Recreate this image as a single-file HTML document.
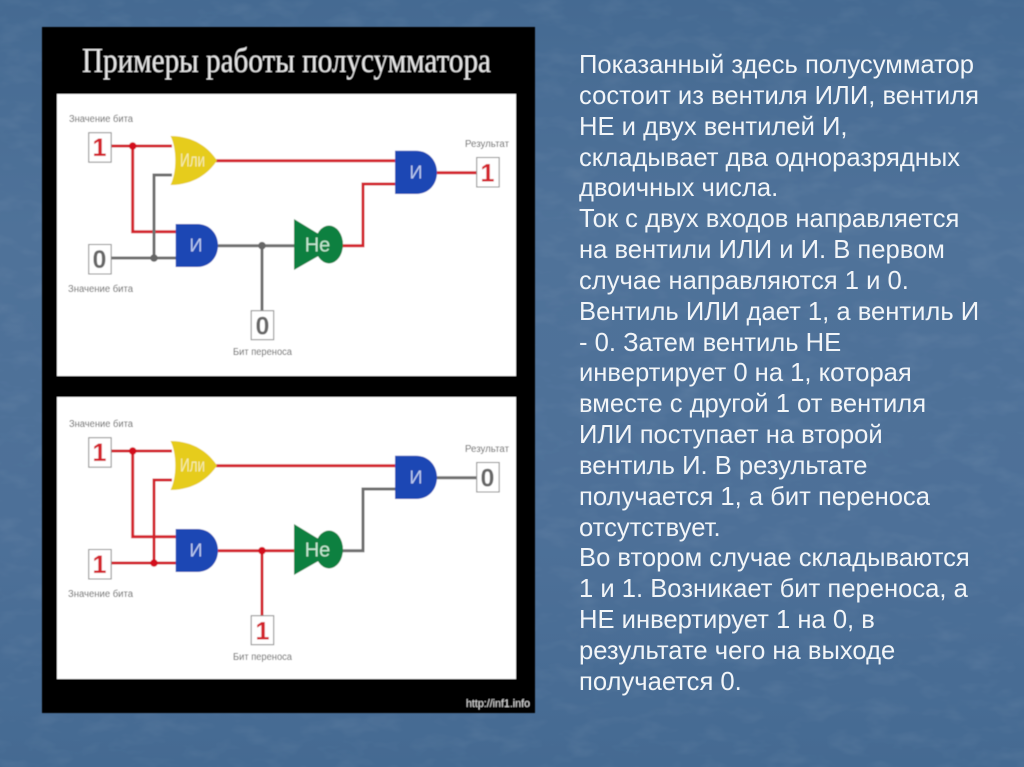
<!DOCTYPE html>
<html lang="ru">
<head>
<meta charset="utf-8">
<title>Полусумматор</title>
<style>
html,body{margin:0;padding:0;width:1024px;height:767px;overflow:hidden;background:#4a6d95;}
#wrap{position:relative;width:1024px;height:767px;overflow:hidden;}
svg{display:block;}
.r{fill:none;stroke:#d3202c;stroke-width:3;}
.g{fill:none;stroke:#6e6e6e;stroke-width:3;}
.box{fill:#fff;stroke:#8a8a8a;stroke-width:1;}
.lab{font-family:"Liberation Sans",sans-serif;font-size:10px;fill:#5f5f5f;}
.dr{font-family:"Liberation Sans",sans-serif;font-size:25px;font-weight:bold;fill:#d3202c;text-anchor:middle;}
.dg{font-family:"Liberation Sans",sans-serif;font-size:25px;font-weight:bold;fill:#666;text-anchor:middle;}
.gt{font-family:"Liberation Sans",sans-serif;font-size:18px;text-anchor:middle;}
.body{font-family:"Liberation Sans",sans-serif;font-size:25.6px;fill:#f2f5f8;}
</style>
</head>
<body>
<div id="wrap">
<svg width="1024" height="767" viewBox="0 0 1024 767" xmlns="http://www.w3.org/2000/svg">
<defs>
<linearGradient id="bg" x1="0" y1="0" x2="0" y2="1">
<stop offset="0" stop-color="#456a92"/>
<stop offset="0.3" stop-color="#4f7299"/>
<stop offset="0.7" stop-color="#4d7098"/>
<stop offset="1" stop-color="#456a92"/>
</linearGradient>
<filter id="tex" x="0" y="0" width="100%" height="100%">
<feTurbulence type="fractalNoise" baseFrequency="0.03 0.06" numOctaves="3" seed="7"/>
<feColorMatrix type="matrix" values="0 0 0 0 1  0 0 0 0 1  0 0 0 0 1  1.6 0 0 0 -0.75"/>
</filter>
<filter id="soft" x="-2%" y="-2%" width="104%" height="104%"><feGaussianBlur stdDeviation="0.45"/></filter>
<filter id="soft2" x="-2%" y="-2%" width="104%" height="104%"><feGaussianBlur stdDeviation="0.25"/></filter>
</defs>

<rect width="1024" height="767" fill="url(#bg)"/>
<rect width="1024" height="767" filter="url(#tex)" opacity="0.08"/>

<g filter="url(#soft)">
<rect x="42" y="27" width="493" height="686" fill="#000"/>
<text x="82" y="72" font-family="'Liberation Serif',serif" font-size="35" fill="#e6e6e6" textLength="409" lengthAdjust="spacingAndGlyphs">Примеры работы полусумматора</text>
<rect x="57" y="94" width="459" height="282" fill="#fff"/>
<rect x="57" y="397" width="459" height="282" fill="#fff"/>
<text x="466" y="707" font-family="'Liberation Sans',sans-serif" font-size="11" fill="#ddd" textLength="64" lengthAdjust="spacingAndGlyphs">http://inf1.info</text>

<!-- Panel 1 -->
<g>
<path class="r" d="M111 146H172"/>
<path class="r" d="M132.700 146V231.700H176"/>
<path class="g" d="M172 175H154V258"/>
<path class="g" d="M111 258H176"/>
<path class="g" d="M218 245.700H295"/>
<path class="g" d="M262 245.700V311"/>
<path class="r" d="M216 160.700H396"/>
<path class="r" d="M342 245.700H363V184H396"/>
<path class="r" d="M437 172.700H477"/>
<circle cx="132.700" cy="146" r="3.800" fill="#d3101c"/>
<circle cx="154" cy="258" r="3.800" fill="#666"/>
<circle cx="262" cy="245.700" r="3.800" fill="#666"/>
<path d="M170.500 136C194 136 209 148 217 160.500C209 173 194 185 170.500 185C177 172 177 149 170.500 136Z" fill="#e6cc1e"/>
<path d="M175.700 224H197C210 224 218 234 218 245.500C218 257 210 267 197 267H175.700Z" fill="#1f46b4"/>
<path d="M395 150.700H416C429 150.700 437 161 437 172.500C437 184 429 194 416 194H395Z" fill="#1f46b4"/>
<path d="M294 219L322 236V254L294 270Z" fill="#0f8040"/>
<ellipse cx="329" cy="244.500" rx="14" ry="19" fill="#0f8040"/>
<text class="gt" x="192.500" y="166.500" fill="#f5ecb0" textLength="25" lengthAdjust="spacingAndGlyphs">Или</text>
<text class="gt" x="196" y="251.500" fill="#b9c9ee">И</text>
<text class="gt" x="416" y="178.500" fill="#b9c9ee">И</text>
<text class="gt" x="317.500" y="251.500" fill="#c4e8d2" style="font-size:20px">Не</text>
<rect class="box" x="88.700" y="132.700" width="22.500" height="29.500"/>
<text class="dr" x="99.500" y="156">1</text>
<rect class="box" x="88.700" y="244.500" width="22.500" height="29.500"/>
<text class="dg" x="99.500" y="268">0</text>
<rect class="box" x="251.200" y="310.700" width="22.500" height="29"/>
<text class="dg" x="262.500" y="334.500">0</text>
<rect class="box" x="476.700" y="157.500" width="22.500" height="29.500"/>
<text class="dr" x="487.500" y="181.500">1</text>
<text class="lab" x="69" y="122" textLength="64" lengthAdjust="spacingAndGlyphs">Значение бита</text>
<text class="lab" x="68" y="292" textLength="65" lengthAdjust="spacingAndGlyphs">Значение бита</text>
<text class="lab" x="465" y="147" textLength="44" lengthAdjust="spacingAndGlyphs">Результат</text>
<text class="lab" x="233" y="355" textLength="59" lengthAdjust="spacingAndGlyphs">Бит переноса</text>
</g>

<!-- Panel 2 -->
<g transform="translate(0,305)">
<path class="r" d="M111 146H172"/>
<path class="r" d="M132.700 146V231.700H176"/>
<path class="r" d="M172 175H154V258"/>
<path class="r" d="M111 258H176"/>
<path class="r" d="M218 245.700H295"/>
<path class="r" d="M262 245.700V311"/>
<path class="r" d="M216 160.700H396"/>
<path class="g" d="M342 245.700H363V184H396"/>
<path class="g" d="M437 172.700H477"/>
<circle cx="132.700" cy="146" r="3.800" fill="#d3101c"/>
<circle cx="154" cy="258" r="3.800" fill="#d3101c"/>
<circle cx="262" cy="245.700" r="3.800" fill="#d3101c"/>
<path d="M170.500 136C194 136 209 148 217 160.500C209 173 194 185 170.500 185C177 172 177 149 170.500 136Z" fill="#e6cc1e"/>
<path d="M175.700 224H197C210 224 218 234 218 245.500C218 257 210 267 197 267H175.700Z" fill="#1f46b4"/>
<path d="M395 150.700H416C429 150.700 437 161 437 172.500C437 184 429 194 416 194H395Z" fill="#1f46b4"/>
<path d="M294 219L322 236V254L294 270Z" fill="#0f8040"/>
<ellipse cx="329" cy="244.500" rx="14" ry="19" fill="#0f8040"/>
<text class="gt" x="192.500" y="166.500" fill="#f5ecb0" textLength="25" lengthAdjust="spacingAndGlyphs">Или</text>
<text class="gt" x="196" y="251.500" fill="#b9c9ee">И</text>
<text class="gt" x="416" y="178.500" fill="#b9c9ee">И</text>
<text class="gt" x="317.500" y="251.500" fill="#c4e8d2" style="font-size:20px">Не</text>
<rect class="box" x="88.700" y="132.700" width="22.500" height="29.500"/>
<text class="dr" x="99.500" y="156">1</text>
<rect class="box" x="88.700" y="244.500" width="22.500" height="29.500"/>
<text class="dr" x="99.500" y="268">1</text>
<rect class="box" x="251.200" y="310.700" width="22.500" height="29"/>
<text class="dr" x="262.500" y="334.500">1</text>
<rect class="box" x="476.700" y="157.500" width="22.500" height="29.500"/>
<text class="dg" x="487.500" y="181.500">0</text>
<text class="lab" x="69" y="122" textLength="64" lengthAdjust="spacingAndGlyphs">Значение бита</text>
<text class="lab" x="68" y="292" textLength="65" lengthAdjust="spacingAndGlyphs">Значение бита</text>
<text class="lab" x="465" y="147" textLength="44" lengthAdjust="spacingAndGlyphs">Результат</text>
<text class="lab" x="233" y="355" textLength="59" lengthAdjust="spacingAndGlyphs">Бит переноса</text>
</g>
</g>

<!-- Body text -->
<g class="body" filter="url(#soft2)">
<text x="579" y="73">Показанный здесь полусумматор</text>
<text x="579" y="104">состоит из вентиля ИЛИ, вентиля</text>
<text x="579" y="135">НЕ и двух вентилей И,</text>
<text x="579" y="166">складывает два одноразрядных</text>
<text x="579" y="196">двоичных числа.</text>
<text x="579" y="227">Ток с двух входов направляется</text>
<text x="579" y="258">на вентили ИЛИ и И. В первом</text>
<text x="579" y="289">случае направляются 1 и 0.</text>
<text x="579" y="320">Вентиль ИЛИ дает 1, а вентиль И</text>
<text x="579" y="351">- 0. Затем вентиль НЕ</text>
<text x="579" y="381">инвертирует 0 на 1, которая</text>
<text x="579" y="412">вместе с другой 1 от вентиля</text>
<text x="579" y="443">ИЛИ поступает на второй</text>
<text x="579" y="474">вентиль И. В результате</text>
<text x="579" y="505">получается 1, а бит переноса</text>
<text x="579" y="536">отсутствует.</text>
<text x="579" y="566">Во втором случае складываются</text>
<text x="579" y="597">1 и 1. Возникает бит переноса, а</text>
<text x="579" y="628">НЕ инвертирует 1 на 0, в</text>
<text x="579" y="659">результате чего на выходе</text>
<text x="579" y="690">получается 0.</text>
</g>
</svg>
</div>
</body>
</html>
